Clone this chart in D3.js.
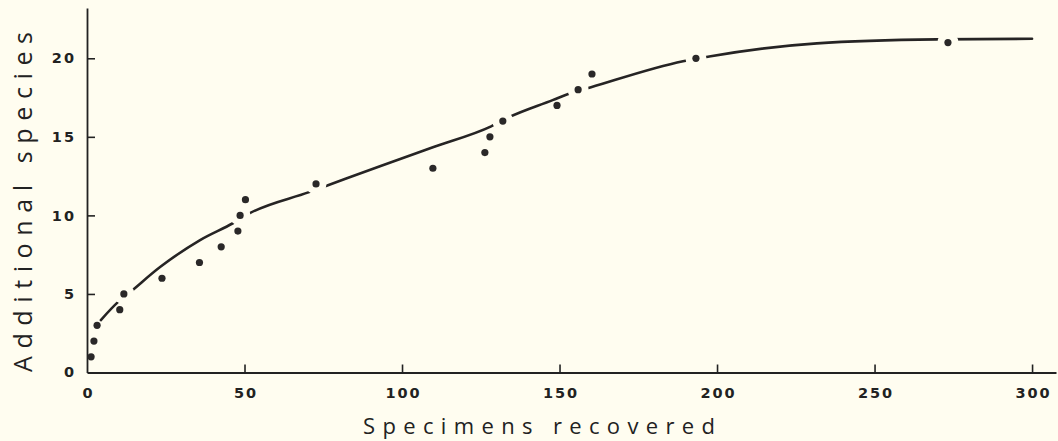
<!DOCTYPE html>
<html>
<head>
<meta charset="utf-8">
<script src="https://cdn.jsdelivr.net/npm/d3@7"></script>
<style>
  html, body { margin: 0; padding: 0; background: #fffdf0; }
  svg { display: block; }
  text { fill: #222; }
</style>
</head>
<body>
<svg id="chart" width="1058" height="441"></svg>
<script>
// Observed data points: specimens recovered vs. additional species
const specimens = [1.3, 2.2, 3.2, 10.4, 11.7, 23.8, 35.7, 42.6, 47.9, 48.6, 50.3, 72.7, 109.8, 126.3, 127.9, 132, 149.2, 155.9, 160.3, 193.3, 273.3];
const species   = [1, 2, 3, 4, 5, 6, 7, 8, 9, 10, 11, 12, 13, 14, 15, 16, 17, 18, 19, 20, 21];

// Hand-drawn fitted curve
const curveX = [4.4, 9.8, 13.7, 23.2, 35.9, 46.3, 51.7, 70.5, 76.5, 93, 109.8, 128.3, 134, 148, 151.7, 160, 189.2, 198, 231.7, 269.8, 300];
const curveY = [3.34, 4.48, 5.12, 6.71, 8.43, 9.5, 10.14, 11.48, 11.92, 13.13, 14.34, 15.67, 16.25, 17.35, 17.65, 18.15, 19.81, 20.13, 20.95, 21.2, 21.24];

// Tick values
const xTicks = [0, 50, 100, 150, 200, 250, 300];
const yTicks = [0, 5, 10, 15, 20];

const xTitle = "Specimens recovered";
const yTitle = "Additional species";

const svg = d3.select("#chart");
const ink = "#222";

const x = d3.scaleLinear().domain([0, 307.6]).range([87, 1056]);
const y = d3.scaleLinear().domain([0, 23.2]).range([372.5, 8]);

const tickFont = g => g
  .attr("fill", ink)
  .style("font-family", "'DejaVu Sans', sans-serif")
  .style("font-size", "14.5px")
  .style("font-weight", "bold")
  .style("letter-spacing", "2px");

// Axes
const xAxis = d3.axisBottom(x).tickValues(xTicks).tickSizeInner(-8).tickSizeOuter(0).tickPadding(15);
const yAxis = d3.axisLeft(y).tickValues(yTicks.filter(d => d > 0)).tickSizeInner(-8).tickSizeOuter(0).tickPadding(11);

const gx = svg.append("g").attr("transform", `translate(0,${y(0)})`).call(xAxis);
const gy = svg.append("g").attr("transform", `translate(${x(0)},0)`).call(yAxis);

[gx, gy].forEach(g => {
  g.select(".domain").attr("stroke", ink).attr("stroke-width", 1.8);
  g.selectAll(".tick line").attr("stroke", ink).attr("stroke-width", 1.6);
  g.selectAll(".tick text").call(tickFont);
});
gx.selectAll(".tick text").attr("dx", "1px");
gx.selectAll(".tick").filter(d => d === 0).select("line").remove();
// y "0" label
gy.append("text")
  .attr("x", -11).attr("y", y(0)).attr("dy", "0.32em")
  .attr("text-anchor", "end")
  .call(tickFont)
  .text("0");

// Axis titles
svg.append("text")
  .attr("x", 363).attr("y", 434)
  .attr("textLength", 352)
  .attr("lengthAdjust", "spacing")
  .style("font-family", "'Open Sans', sans-serif")
  .style("font-size", "22px")
  .text(xTitle);

svg.append("text")
  .attr("transform", `translate(32,372) rotate(-90)`)
  .attr("textLength", 340)
  .attr("lengthAdjust", "spacing")
  .style("font-family", "'Open Sans', sans-serif")
  .style("font-size", "25px")
  .text(yTitle);

// Curve
const curvePts = curveX.map((d, i) => [d, curveY[i]]);
const line = d3.line().x(d => x(d[0])).y(d => y(d[1])).curve(d3.curveMonotoneX);

const defs = svg.append("defs");
const mask = defs.append("mask").attr("id", "gapmask").attr("maskUnits", "userSpaceOnUse")
  .attr("x", 0).attr("y", 0).attr("width", 1058).attr("height", 441);
mask.append("rect").attr("x", 0).attr("y", 0).attr("width", 1058).attr("height", 441).attr("fill", "white");

const curvePath = svg.append("path")
  .datum(curvePts)
  .attr("d", line)
  .attr("fill", "none")
  .attr("stroke", "#262424")
  .attr("stroke-width", 2.6)
  .attr("stroke-linecap", "round")
  .attr("mask", "url(#gapmask)");

// Break the drawn curve where a data point sits on it
const node = curvePath.node();
const total = node.getTotalLength();
const samples = d3.range(0, total, 1).map(l => node.getPointAtLength(l));
const pts = specimens.map((d, i) => [x(d), y(species[i])]);
pts.forEach(p => {
  const dmin = d3.min(samples, s => Math.hypot(s.x - p[0], s.y - p[1]));
  if (dmin < 5.8) {
    mask.append("circle").attr("cx", p[0]).attr("cy", p[1]).attr("r", 10.5).attr("fill", "black");
  }
});

// Points
svg.append("g").selectAll("circle")
  .data(pts)
  .join("circle")
  .attr("cx", d => d[0])
  .attr("cy", d => d[1])
  .attr("r", 3.6)
  .attr("fill", "#2a2828");
</script>
</body>
</html>
